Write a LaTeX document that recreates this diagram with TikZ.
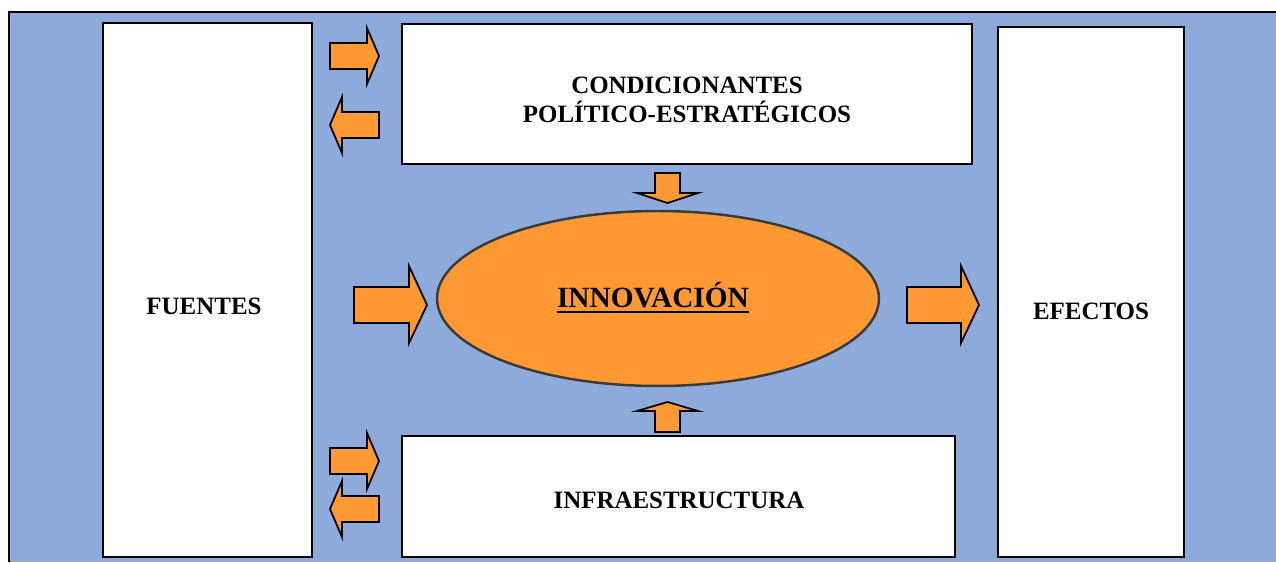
\documentclass[tikz,border=0pt]{standalone}
\usepackage{fontspec}
\setmainfont{Liberation Serif}
\definecolor{bgblue}{HTML}{8EAADB}
\definecolor{fillorange}{HTML}{FF9933}
\definecolor{rimgray}{HTML}{3A3A3A}

\begin{document}
\begin{tikzpicture}[x=0.02cm, y=0.02cm,
    panel/.style={draw=black, fill=white, line width=0.8pt},
    fatarrow/.style={draw=black, fill=fillorange, line width=1pt, line join=miter},
    caption/.style={font=\fontsize{14.2}{16.5}\selectfont\bfseries, inner sep=0pt, align=center}]
        \useasboundingbox (0,0) rectangle (1276,562);
        % frame
        \fill[bgblue] (9,0) rectangle (1276,550);
        \draw[line width=0.8pt] (9,0) -- (9,550) -- (1276,550);

        % boxes
        \draw[panel] (103,5) rectangle (312,539);
        \draw[panel] (998,5) rectangle (1184,535);
        \draw[panel] (402,398) rectangle (972,538);
        \draw[panel] (402,5) rectangle (955,126);
        \draw[draw=rimgray, fill=fillorange, line width=1.4pt] (658,263.5) ellipse [x radius=4.42cm, y radius=1.75cm];

        \node[caption, anchor=base] (fuentes) at (204,247) {FUENTES};
        \node[caption, anchor=base] (efectos) at (1091,242) {EFECTOS};
        \node[caption, anchor=base] (infra) at (679,53) {INFRAESTRUCTURA};
        \node[caption] (cond) at (687,462) {CONDICIONANTES\\POLÍTICO-ESTRATÉGICOS};
        \node[font=\fontsize{16.7}{20}\selectfont\bfseries, inner sep=0pt, anchor=base] (innov) at (653,255) {INNOVACIÓN};
        \draw[line width=1.1pt] ([yshift=-0.1cm]innov.base west) -- ([yshift=-0.1cm]innov.base east);

        % arrows
        \draw[fatarrow] (330,519) -- (367,519) -- (367,534) -- (379,506) -- (367,478) -- (367,493) -- (330,493) -- cycle;
        \draw[fatarrow] (379,450) -- (342,450) -- (342,465) -- (330,437) -- (342,409) -- (342,424) -- (379,424) -- cycle;
        \draw[fatarrow] (330,114) -- (367,114) -- (367,129) -- (379,101) -- (367,73) -- (367,88) -- (330,88) -- cycle;
        \draw[fatarrow] (379,66) -- (342,66) -- (342,81) -- (330,53) -- (342,25) -- (342,40) -- (379,40) -- cycle;
        \draw[fatarrow] (354,275) -- (409,275) -- (409,296) -- (427,257) -- (409,219) -- (409,239) -- (354,239) -- cycle;
        \draw[fatarrow] (907,275) -- (961,275) -- (961,296) -- (979,257) -- (961,219) -- (961,239) -- (907,239) -- cycle;
        \draw[fatarrow] (655,389) -- (655,369) -- (637,369) -- (667.5,359) -- (698,369) -- (680,369) -- (680,389) -- cycle;
        \draw[fatarrow] (655,130) -- (655,151) -- (637,151) -- (667.5,160) -- (698,151) -- (680,151) -- (680,130) -- cycle;
\end{tikzpicture}
\end{document}
